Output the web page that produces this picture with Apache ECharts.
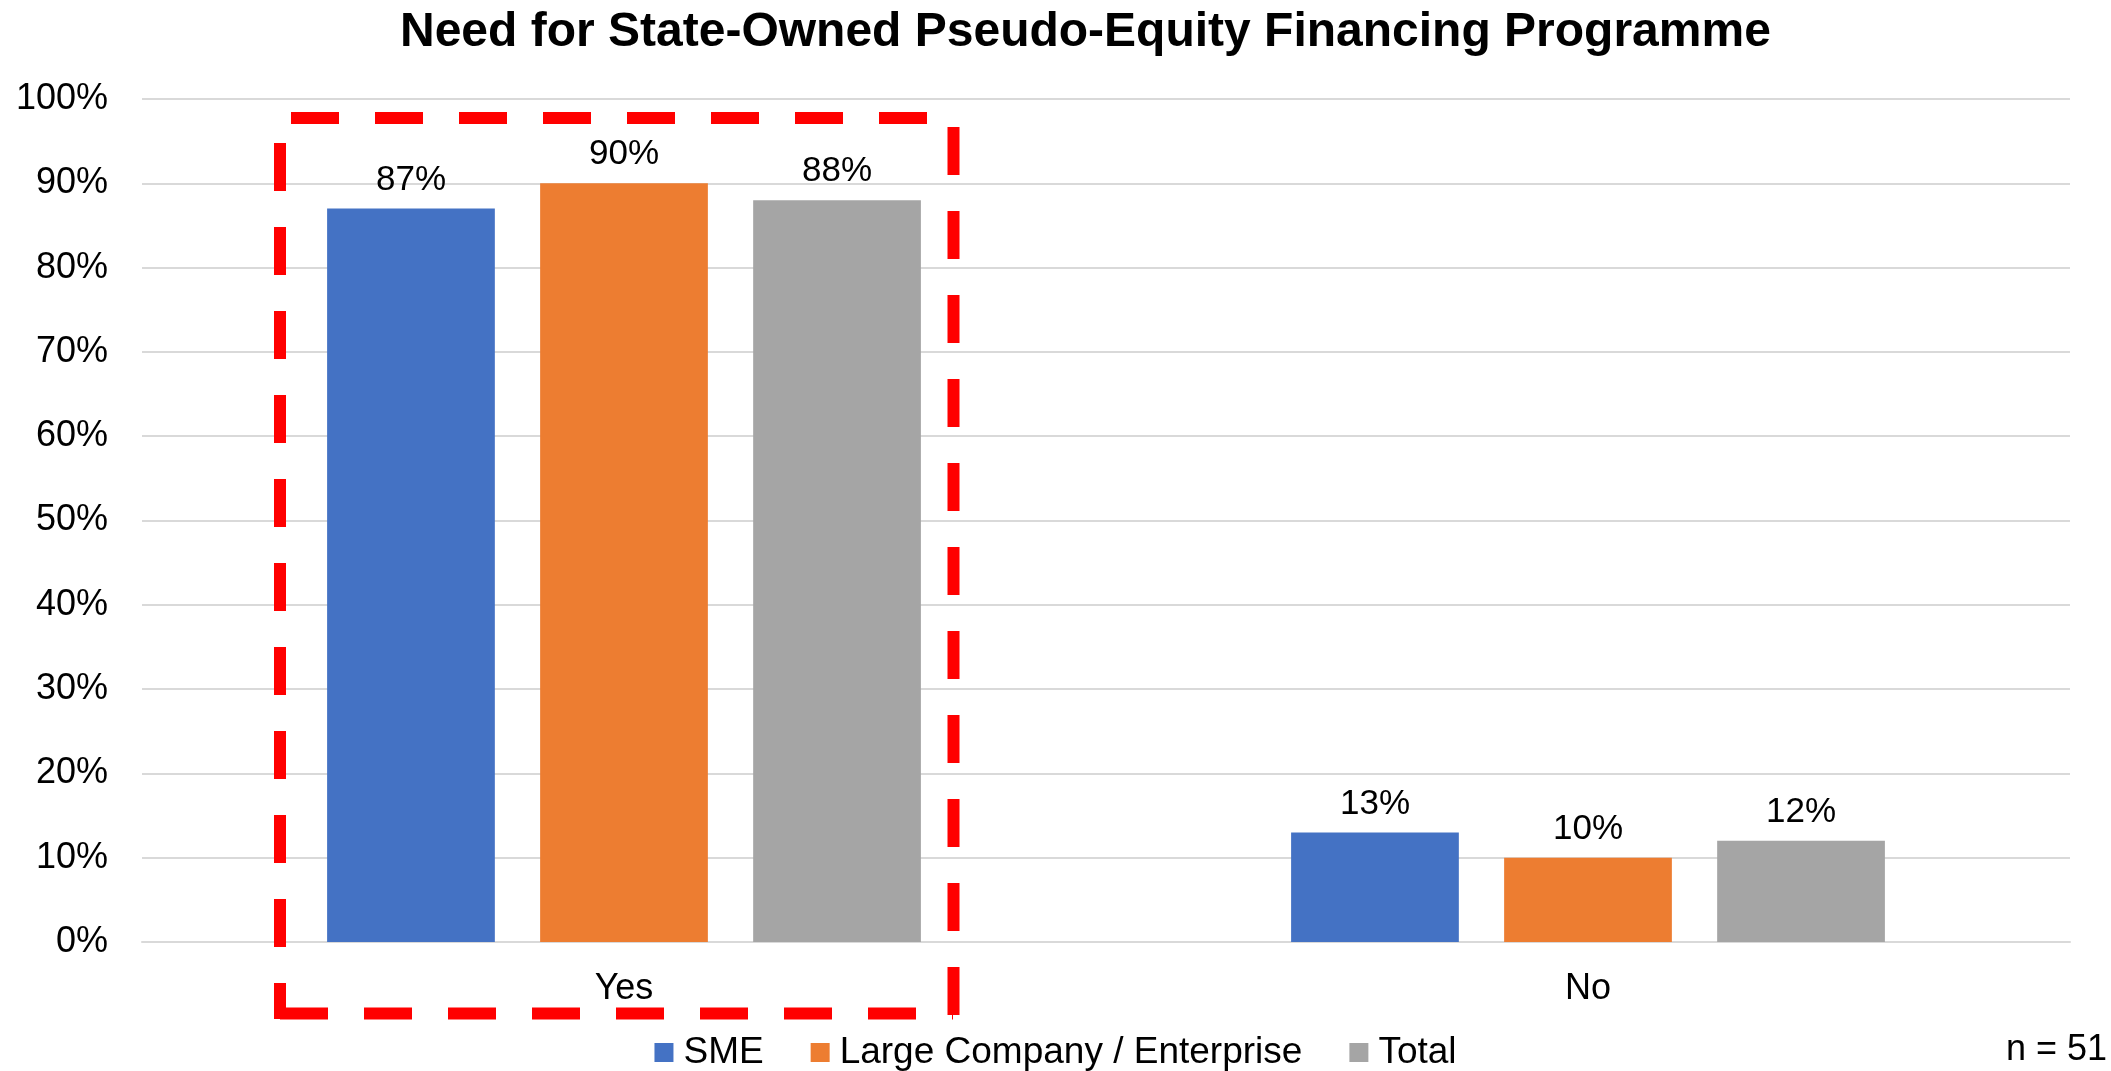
<!DOCTYPE html>
<html>
<head>
<meta charset="utf-8">
<script src="https://cdn.jsdelivr.net/npm/echarts@6/dist/echarts.min.js"></script>
<style>
  html, body { margin: 0; padding: 0; background: #fff; }
  #chartBox { width: 2111px; height: 1071px; }
</style>
</head>
<body>
<div id="chartBox"></div>
<script>
// chart data
const categories = ['Yes', 'No'];
const seriesNames = ['SME', 'Large Company / Enterprise', 'Total'];
const smeValues = [87, 13];
const largeValues = [90, 10];
const totalValues = [88, 12];
const colors = ['#4472C4', '#ED7D31', '#A5A5A5'];

const font = 'Liberation Sans, Arial, sans-serif';
let myChart = echarts.init(document.getElementById('chartBox'));

function barSeries (name, values, color) {
  return {
    name: name,
    type: 'bar',
    data: values,
    barWidth: '17.4%',
    barGap: '27%',
    itemStyle: { color: color },
    label: {
      show: true,
      position: 'top',
      distance: 11,
      formatter: '{c}%',
      color: '#000',
      fontFamily: font,
      fontSize: 35
    }
  };
}

// red dashed box around the "Yes" group
const dash = { stroke: '#FF0000', lineWidth: 12, lineDash: [48, 36] };

myChart.setOption({
  animation: false,
  color: colors,
  title: [{
    text: 'Need for State-Owned Pseudo-Equity Financing Programme',
    left: 400,
    top: 9,
    padding: 0,
    textStyle: { fontFamily: font, fontSize: 48, fontWeight: 'bold', color: '#000' }
  }, {
    text: 'n = 51',
    right: 4,
    top: 1032,
    padding: 0,
    textStyle: { fontFamily: font, fontSize: 36, fontWeight: 'normal', color: '#000' }
  }],
  legend: {
    left: 'center',
    top: 1029,
    icon: 'rect',
    itemWidth: 19,
    itemHeight: 19,
    itemGap: 47,
    data: seriesNames,
    textStyle: { fontFamily: font, fontSize: 37, color: '#000', padding: [0, 0, 0, 5] }
  },
  grid: { left: 142, right: 41, top: 99, bottom: 129, containLabel: false },
  xAxis: {
    type: 'category',
    data: categories,
    axisLine: { lineStyle: { color: '#D9D9D9', width: 2 } },
    axisTick: { show: false },
    axisLabel: { margin: 29, color: '#000', fontFamily: font, fontSize: 36 }
  },
  yAxis: {
    type: 'value',
    min: 0,
    max: 100,
    interval: 10,
    axisLine: { show: false },
    axisTick: { show: false },
    splitLine: { lineStyle: { color: '#D9D9D9', width: 2 } },
    axisLabel: {
      margin: 34,
      padding: [10, 0, 0, 0],
      formatter: '{value}%',
      color: '#000',
      fontFamily: font,
      fontSize: 36
    }
  },
  series: [
    barSeries(seriesNames[0], smeValues, colors[0]),
    barSeries(seriesNames[1], largeValues, colors[1]),
    barSeries(seriesNames[2], totalValues, colors[2])
  ],
  graphic: [
    { type: 'line', z: 100, shape: { x1: 291, y1: 118, x2: 953, y2: 118 }, style: dash },
    { type: 'line', z: 100, shape: { x1: 280, y1: 143, x2: 280, y2: 1019 }, style: dash },
    { type: 'line', z: 100, shape: { x1: 953.5, y1: 127, x2: 953.5, y2: 1019 }, style: dash },
    { type: 'line', z: 100, shape: { x1: 280, y1: 1013.5, x2: 953, y2: 1013.5 }, style: dash }
  ]
});
</script>
</body>
</html>
